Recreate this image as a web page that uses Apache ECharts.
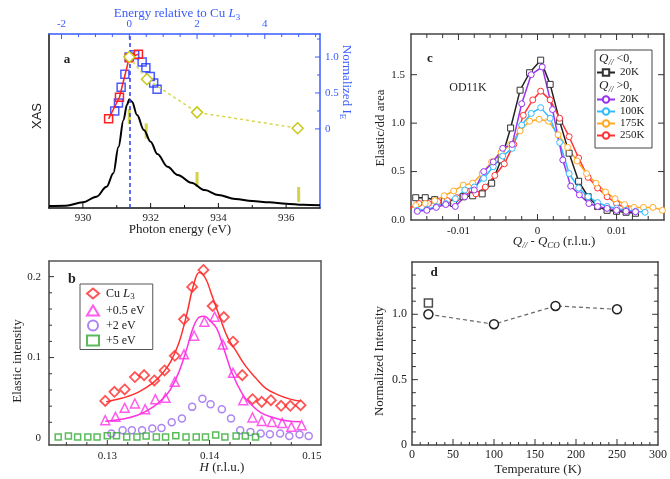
<!DOCTYPE html>
<html>
<head>
<meta charset="utf-8">
<script src="https://cdn.jsdelivr.net/npm/echarts@6/dist/echarts.min.js"></script>
<style>
html, body { margin: 0; padding: 0; background: #fff; }
#main { width: 670px; height: 479px; }
</style>
</head>
<body>
<div id="main"></div>
<script>
// ---- panel a : XAS and normalized elastic intensity ----
var xasEnergy = [929.0, 929.5, 930.0, 930.4, 930.7, 930.9, 931.05, 931.2, 931.3, 931.37, 931.45, 931.6, 931.8, 932.0, 932.2, 932.5, 932.8, 933.2, 933.6, 934.0, 934.5, 935.0, 935.5, 936.0, 936.5, 937.0];
var xasValue = [0.011, 0.013, 0.033, 0.065, 0.122, 0.2, 0.35, 0.506, 0.592, 0.625, 0.611, 0.534, 0.448, 0.381, 0.31, 0.237, 0.19, 0.145, 0.103, 0.075, 0.052, 0.04, 0.033, 0.025, 0.019, 0.016];
var markEnergy = [931.37, 931.87, 933.37, 936.37];
var markLevel = [0.526, 0.443, 0.164, 0.078];
var cuL3 = 931.37;
var redE = [-0.61, -0.29, 0, 0.27];
var redI = [0.14, 0.44, 0.99, 1.04];
var blueE = [-0.43, -0.32, -0.24, -0.13, 0.0, 0.16, 0.38, 0.49, 0.62, 0.72, 0.82];
var blueI = [0.25, 0.36, 0.58, 0.76, 1.0, 1.03, 0.93, 0.85, 0.73, 0.64, 0.55];
var yelE = [0, 0.52, 2.0, 4.97];
var yelI = [1.0, 0.69, 0.23, 0.01];

// ---- panel b : elastic intensity vs H ----
var hRed = [0.1298, 0.1307, 0.1317, 0.1327, 0.1336, 0.1346, 0.1356, 0.1366, 0.1375, 0.1383, 0.1394, 0.1403, 0.1414, 0.1423, 0.1432, 0.1442, 0.1451, 0.1460, 0.1470, 0.1479, 0.1489];
var iRed = [0.0465, 0.0577, 0.0606, 0.0759, 0.0783, 0.0718, 0.0841, 0.1022, 0.1473, 0.1873, 0.2083, 0.1637, 0.150, 0.1196, 0.0783, 0.0486, 0.0453, 0.0474, 0.0404, 0.0404, 0.0412];
var hMag = [0.1298, 0.1308, 0.1317, 0.1327, 0.1337, 0.1347, 0.1357, 0.1366, 0.1375, 0.1385, 0.1395, 0.1405, 0.1413, 0.1423, 0.1433, 0.1442, 0.1451, 0.1461, 0.1471, 0.1480, 0.1490];
var iMag = [0.0226, 0.0268, 0.0379, 0.0433, 0.0363, 0.0486, 0.0503, 0.070, 0.104, 0.127, 0.1443, 0.1505, 0.1163, 0.0812, 0.0474, 0.026, 0.0218, 0.0205, 0.0193, 0.0144, 0.0165];
var hPur = [0.1304, 0.1315, 0.1324, 0.1334, 0.1344, 0.1353, 0.1363, 0.1373, 0.1383, 0.1393, 0.1401, 0.1412, 0.1421, 0.1430, 0.1440, 0.1450, 0.1459, 0.1469, 0.1478, 0.1488, 0.1497];
var iPur = [0.0062, 0.0103, 0.0103, 0.0103, 0.0124, 0.0131, 0.0202, 0.0248, 0.0391, 0.0490, 0.0424, 0.0363, 0.0248, 0.0103, 0.0082, 0.0062, 0.0053, 0.0062, 0.0032, 0.005, 0.0032];
var hGrn = [0.1252, 0.1262, 0.1271, 0.1281, 0.1290, 0.1300, 0.1309, 0.1319, 0.1329, 0.1338, 0.1348, 0.1357, 0.1367, 0.1377, 0.1387, 0.1396, 0.1406, 0.1415, 0.1426, 0.1435, 0.1445];
var iGrn = [0.002, 0.003, 0.002, 0.002, 0.002, 0.0033, 0.0033, 0.002, 0.002, 0.003, 0.002, 0.002, 0.0033, 0.002, 0.002, 0.002, 0.0045, 0.002, 0.003, 0.003, 0.002];
var hFitRed = [0.1299, 0.1315, 0.1330, 0.1345, 0.1355, 0.1362, 0.1370, 0.1378, 0.1384, 0.1390, 0.1396, 0.1402, 0.1410, 0.1418, 0.1426, 0.1435, 0.1445, 0.1455, 0.1467, 0.1478, 0.1489];
var iFitRed = [0.0455, 0.050, 0.057, 0.069, 0.082, 0.095, 0.118, 0.155, 0.188, 0.205, 0.198, 0.178, 0.150, 0.124, 0.108, 0.090, 0.075, 0.062, 0.054, 0.049, 0.046];
var hFitMag = [0.1298, 0.1315, 0.1330, 0.1345, 0.1355, 0.1362, 0.1370, 0.1378, 0.1384, 0.1390, 0.1395, 0.1400, 0.1407, 0.1414, 0.1422, 0.1433, 0.1440, 0.1450, 0.1462, 0.1475, 0.1489];
var iFitMag = [0.0214, 0.024, 0.029, 0.039, 0.050, 0.061, 0.082, 0.112, 0.137, 0.150, 0.151, 0.146, 0.136, 0.111, 0.081, 0.053, 0.043, 0.032, 0.026, 0.022, 0.0206];

// ---- panel c : elastic/dd area vs Q ----
var qBlk = [-0.0154, -0.0142, -0.0130, -0.0118, -0.0106, -0.0094, -0.0082, -0.0070, -0.0058, -0.0046, -0.0034, -0.0022, -0.0010, 0.0004, 0.0016, 0.0028, 0.0040, 0.0052, 0.0064, 0.0076, 0.0088, 0.0100, 0.0112, 0.0124];
var vBlk = [0.23, 0.23, 0.21, 0.19, 0.17, 0.24, 0.25, 0.27, 0.38, 0.62, 0.95, 1.34, 1.52, 1.65, 1.40, 1.02, 0.69, 0.40, 0.24, 0.14, 0.10, 0.09, 0.08, 0.07];
var qPur = [-0.0152, -0.0140, -0.0128, -0.0116, -0.0104, -0.0092, -0.0080, -0.0068, -0.0056, -0.0044, -0.0032, -0.0020, -0.0008, 0.0006, 0.0019, 0.0032, 0.0042, 0.0053, 0.0065, 0.0076, 0.0088, 0.0100, 0.0112, 0.0124];
var vPur = [0.09, 0.10, 0.13, 0.16, 0.14, 0.24, 0.31, 0.50, 0.60, 0.74, 0.78, 1.20, 1.50, 1.58, 1.14, 0.62, 0.35, 0.26, 0.17, 0.14, 0.12, 0.10, 0.09, 0.085];
var qCya = [-0.0152, -0.0140, -0.0128, -0.0116, -0.0104, -0.0092, -0.0080, -0.0068, -0.0056, -0.0044, -0.0032, -0.0020, -0.0008, 0.0004, 0.0016, 0.0028, 0.0040, 0.0052, 0.0064, 0.0076, 0.0088, 0.0100, 0.0112, 0.0124, 0.0136];
var vCya = [0.10, 0.11, 0.14, 0.17, 0.22, 0.31, 0.34, 0.43, 0.55, 0.66, 0.74, 0.98, 1.10, 1.16, 1.05, 0.80, 0.48, 0.33, 0.24, 0.18, 0.14, 0.12, 0.10, 0.09, 0.08];
var qOra = [-0.0154, -0.0142, -0.0130, -0.0118, -0.0106, -0.0094, -0.0082, -0.0070, -0.0058, -0.0046, -0.0034, -0.0022, -0.0010, 0.0002, 0.0014, 0.0026, 0.0038, 0.0050, 0.0062, 0.0074, 0.0086, 0.0098, 0.0110, 0.0122, 0.0134, 0.0146, 0.0158];
var vOra = [0.15, 0.17, 0.20, 0.25, 0.30, 0.36, 0.38, 0.48, 0.60, 0.70, 0.78, 0.92, 1.02, 1.04, 1.02, 0.88, 0.75, 0.61, 0.48, 0.38, 0.29, 0.22, 0.16, 0.13, 0.13, 0.13, 0.10];
var qRed = [-0.0162, -0.0150, -0.0138, -0.0126, -0.0114, -0.0102, -0.0090, -0.0078, -0.0066, -0.0054, -0.0042, -0.0030, -0.0018, -0.0006, 0.0004, 0.0016, 0.0028, 0.0040, 0.0052, 0.0064, 0.0076, 0.0088, 0.0100, 0.0112];
var vRed = [0.12, 0.17, 0.17, 0.19, 0.20, 0.23, 0.30, 0.27, 0.34, 0.46, 0.58, 0.78, 1.08, 1.24, 1.33, 1.24, 1.05, 0.86, 0.64, 0.44, 0.33, 0.24, 0.17, 0.12];

// ---- panel d : normalized intensity vs temperature ----
var tempK = [20, 100, 175, 250];
var normI = [1.0, 0.924, 1.064, 1.038];
var tempNeg = [20];
var normNeg = [1.087];

// tick labels
var aBottomLabels = [930, 932, 934, 936];
var aTopLabels = [-2, 0, 2, 4];
var aRightLabels = [0, 0.5, 1.0];
var bXLabels = [0.13, 0.14, 0.15];
var bYLabels = [0, 0.1, 0.2];
var cXLabels = [-0.01, 0, 0.01];
var cYLabels = [0, 0.5, 1.0, 1.5];
var dXLabels = [0, 50, 100, 150, 200, 250, 300];
var dYLabels = [0, 0.5, 1.0];

// tick marks (major / minor)
var aBottomMajor = [930, 932, 934, 936];
var aBottomMinor = [931, 933, 935];
var aTopMajor = [-2, 0, 2, 4];
var aTopMinor = [-1.5, -1, -0.5, 0.5, 1, 1.5, 2.5, 3, 3.5, 4.5, 5, 5.5];
var aRightMajor = [0, 0.5, 1.0];
var aRightMinor = [0.25, 0.75, 1.25];
var bXMajor = [0.13, 0.14];
var bXMinor = [0.126, 0.128, 0.132, 0.134, 0.136, 0.138, 0.142, 0.144, 0.146, 0.148];
var bYMajor = [0.1, 0.2];
var bYMinor = [0.02, 0.04, 0.06, 0.08, 0.12, 0.14, 0.16, 0.18];
var cXMajor = [-0.01, 0, 0.01];
var cXMinor = [-0.014, -0.012, -0.008, -0.006, -0.004, -0.002, 0.002, 0.004, 0.006, 0.008, 0.012, 0.014];
var cYMajor = [0.5, 1.0, 1.5];
var dXMajor = [50, 100, 150, 200, 250];
var dXMinor = [10, 20, 30, 40, 60, 70, 80, 90, 110, 120, 130, 140, 160, 170, 180, 190, 210, 220, 230, 240, 260, 270, 280, 290];
var dYMajor = [0.5, 1.0];
var dYMinor = [0.1, 0.2, 0.3, 0.4, 0.6, 0.7, 0.8, 0.9, 1.1, 1.2, 1.3];

var FONT = 'Liberation Serif';
var BLUE = '#3a5cff';
var INK = '#222';

// plot boxes
var GA = { left: 49, top: 34, width: 271, height: 174 };
var GB = { left: 49, top: 261, width: 272, height: 184 };
var GC = { left: 411, top: 34, width: 253, height: 186 };
var GD = { left: 412, top: 262, width: 252, height: 183 };

function pairs(xs, ys) {
    return xs.map(function (x, i) { return [x, ys[i]]; });
}

var RICH = {
    it: { fontStyle: 'italic', fontFamily: FONT, fontSize: 13 },
    sub: { fontFamily: FONT, fontSize: 9, padding: [7, 0, 0, 0] },
    subit: { fontStyle: 'italic', fontFamily: FONT, fontSize: 9, padding: [7, 0, 0, 0] }
};

function label(x, y, text, opt) {
    opt = opt || {};
    return {
        type: 'text', x: x, y: y, rotation: opt.rotation || 0, z: 100,
        style: {
            text: text, fill: opt.color || INK, align: 'center', verticalAlign: 'middle',
            font: (opt.weight || 'normal') + ' ' + (opt.size || 13) + 'px "' + (opt.family || FONT) + '"',
            rich: RICH
        }
    };
}

function axisLine(color) {
    return { show: true, onZero: false, lineStyle: { color: color || '#333', width: 1.5 } };
}

function vAxis(grid, pos, min, max, color, labelOpt) {
    return {
        gridIndex: grid, type: 'value', position: pos, min: min, max: max,
        axisLine: axisLine(color), splitLine: { show: false },
        axisTick: { show: false },
        axisLabel: labelOpt || { show: false }
    };
}

function lab(values, size, color, margin, fmt) {
    var o = { show: true, customValues: values, fontFamily: FONT, fontSize: size, color: color || INK, margin: margin };
    if (fmt) o.formatter = fmt;
    return o;
}

function fmt1(v) { return v === 0 ? '0' : v.toFixed(1); }

// inward tick marks as short broken line segments on the axis scales.
// side: frame edge; edge: value of the other axis there; perPx: other-axis units per pixel
function tickLine(xi, yi, side, edge, values, lenPx, perPx, color) {
    var vertical = side === 'bottom' || side === 'top';
    var d = ((side === 'bottom' || side === 'left') ? 1 : -1) * lenPx * perPx;
    var data = [];
    values.forEach(function (v) {
        if (vertical) data.push([v, edge], [v, edge + d]);
        else data.push([edge, v], [edge + d, v]);
        data.push(['-', '-']);
    });
    return {
        type: 'line', xAxisIndex: xi, yAxisIndex: yi, data: data, silent: true, z: 6,
        showSymbol: false, symbol: 'none', connectNulls: false, clip: false,
        lineStyle: { color: color || '#333', width: 1 }
    };
}

var aTopMax = 937 - cuL3;
var aYPx = 1 / GA.height, aRPx = 2.42 / GA.height, aTPx = 8 / GA.width;
var bYPx = 0.2273 / GB.height, bXPx = 0.0266 / GB.width;
var cYPx = 1.92 / GC.height, cXPx = 0.032 / GC.width;
var dYPx = 1.4 / GD.height, dXPx = 300 / GD.width;

var myChart = echarts.init(document.getElementById('main'));
var option = {
    animation: false,
    grid: [GA, GB, GC, GD],
    xAxis: [
        vAxis(0, 'bottom', 929, 937, '#111', lab(aBottomLabels, 11, INK, 5)),
        vAxis(0, 'top', 929 - cuL3, aTopMax, BLUE, lab(aTopLabels, 11, BLUE, 4)),
        vAxis(1, 'bottom', 0.1243, 0.1509, '#444', lab(bXLabels, 11, INK, 6, function (v) { return v.toFixed(2); })),
        vAxis(1, 'top', 0.1243, 0.1509, '#555'),
        vAxis(2, 'bottom', -0.016, 0.016, '#444', lab(cXLabels, 11, INK, 6, function (v) { return v === 0 ? '0' : v.toFixed(2); })),
        vAxis(2, 'top', -0.016, 0.016, '#444'),
        vAxis(3, 'bottom', 0, 300, '#444', lab(dXLabels, 12, INK, 4)),
        vAxis(3, 'top', 0, 300, '#444')
    ],
    yAxis: [
        vAxis(0, 'left', 0, 1, '#111'),
        vAxis(0, 'right', -1.1, 1.32, BLUE, lab(aRightLabels, 11, BLUE, 5, fmt1)),
        vAxis(1, 'left', -0.008, 0.2193, '#444', lab(bYLabels, 11, INK, 8, fmt1)),
        vAxis(1, 'right', -0.008, 0.2193, '#555'),
        vAxis(2, 'left', 0, 1.92, '#444', lab(cYLabels, 11, INK, 6, function (v) { return v.toFixed(1); })),
        vAxis(2, 'right', 0, 1.92, '#444'),
        vAxis(3, 'left', 0, 1.4, '#444', lab(dYLabels, 12, INK, 5, fmt1)),
        vAxis(3, 'right', 0, 1.4, '#444')
    ],
    legend: [
        {   // b
            left: 80, top: 284, orient: 'vertical', itemGap: 3, itemWidth: 12, itemHeight: 10,
            borderColor: '#555', borderWidth: 1, padding: [3, 8, 3, 6],
            data: ['Cu L3', '+0.5 eV', '+2 eV', '+5 eV'],
            formatter: function (name) { return name === 'Cu L3' ? 'Cu {it|L}{sub|3}' : name; },
            textStyle: { fontFamily: FONT, fontSize: 12, color: INK, padding: [0, 0, 0, 2], rich: RICH }
        },
        {   // c, Q<0
            left: 596, top: 67, orient: 'vertical', itemWidth: 18, itemHeight: 8, padding: 0, z: 120,
            data: ['neg 20K'],
            formatter: function (name) { return name.split(' ')[1]; },
            textStyle: { fontFamily: FONT, fontSize: 11, color: INK }
        },
        {   // c, Q>0
            left: 596, top: 94, orient: 'vertical', itemGap: 1, itemWidth: 18, itemHeight: 8, padding: 0, z: 120,
            data: ['pos 20K', 'pos 100K', 'pos 175K', 'pos 250K'],
            formatter: function (name) { return name.split(' ')[1]; },
            textStyle: { fontFamily: FONT, fontSize: 11, color: INK }
        }
    ],
    graphic: [
        label(177, 14, 'Energy relative to Cu {it|L}{sub|3}', { color: BLUE }),
        label(37, 116, 'XAS', { rotation: Math.PI / 2, family: 'Liberation Sans', size: 13 }),
        label(180, 230, 'Photon energy (eV)'),
        label(346, 82, 'Normalized I{sub|E}', { rotation: -Math.PI / 2, color: BLUE }),
        label(67, 60, 'a', { weight: 'bold' }),
        label(18, 361, 'Elastic intensity', { rotation: Math.PI / 2 }),
        label(222, 468, '{it|H} (r.l.u.)'),
        label(72, 279, 'b', { weight: 'bold', size: 14 }),
        label(381, 128, 'Elastic/dd area', { rotation: Math.PI / 2 }),
        label(554, 242, '{it|Q}{subit|//} - {it|Q}{subit|CO} (r.l.u.)'),
        label(430, 59, 'c', { weight: 'bold' }),
        label(468, 88, 'OD11K', { size: 12 }),
        label(380, 361, 'Normalized Intensity', { rotation: Math.PI / 2 }),
        label(538, 470, 'Temperature (K)'),
        label(434, 273, 'd', { weight: 'bold' }),
        {
            type: 'rect', shape: { x: 595, y: 50, width: 57, height: 98 }, z: 1,
            style: { fill: 'none', stroke: '#444', lineWidth: 1 }
        },
        {
            type: 'text', x: 599, y: 59, z: 100,
            style: { text: '{it|Q}{subit|//} <0,', fill: INK, verticalAlign: 'middle', font: '12px "' + FONT + '"', rich: RICH }
        },
        {
            type: 'text', x: 599, y: 86, z: 100,
            style: { text: '{it|Q}{subit|//} >0,', fill: INK, verticalAlign: 'middle', font: '12px "' + FONT + '"', rich: RICH }
        }
    ],
    series: [
        // panel a
        {
            name: 'XAS', type: 'line', xAxisIndex: 0, yAxisIndex: 0, data: pairs(xasEnergy, xasValue),
            showSymbol: false, smooth: 0.35, smoothMonotone: 'x', lineStyle: { color: '#000', width: 2 },
            markLine: {
                silent: true, symbol: 'none', label: { show: false },
                lineStyle: { color: '#2a3cf0', type: [4, 3], width: 1.5 },
                data: [{ xAxis: cuL3 }]
            }
        },
        {
            name: 'marks', type: 'scatter', xAxisIndex: 0, yAxisIndex: 0, data: pairs(markEnergy, markLevel),
            symbol: 'rect', symbolSize: [3, 15], itemStyle: { color: '#c8c81a' }
        },
        {
            name: 'red', type: 'line', xAxisIndex: 1, yAxisIndex: 1, data: pairs(redE, redI),
            symbol: 'rect', symbolSize: 8, lineStyle: { color: '#ff2020', width: 1.5 },
            itemStyle: { color: 'rgba(0,0,0,0)', borderColor: '#ff2020', borderWidth: 1.5 }
        },
        {
            name: 'blue', type: 'scatter', xAxisIndex: 1, yAxisIndex: 1, data: pairs(blueE, blueI),
            symbol: 'rect', symbolSize: 8,
            itemStyle: { color: 'rgba(0,0,0,0)', borderColor: '#1f2fff', borderWidth: 1.5 }
        },
        {
            name: 'yellow', type: 'line', xAxisIndex: 1, yAxisIndex: 1, data: pairs(yelE, yelI),
            symbol: 'diamond', symbolSize: 11, lineStyle: { color: '#d6d650', type: [3, 3], width: 1.5 },
            itemStyle: { color: '#fff', borderColor: '#c8c81a', borderWidth: 1.5 }, z: 5
        },
        // panel b
        {
            name: 'fit red', type: 'line', xAxisIndex: 2, yAxisIndex: 2, data: pairs(hFitRed, iFitRed),
            showSymbol: false, smooth: 0.4, lineStyle: { color: '#ff3030', width: 1.5 }
        },
        {
            name: 'fit mag', type: 'line', xAxisIndex: 2, yAxisIndex: 2, data: pairs(hFitMag, iFitMag),
            showSymbol: false, smooth: 0.4, lineStyle: { color: '#ff33e0', width: 1.5 }
        },
        {
            name: 'Cu L3', type: 'scatter', xAxisIndex: 2, yAxisIndex: 2, data: pairs(hRed, iRed),
            symbol: 'diamond', symbolSize: 10,
            itemStyle: { color: 'rgba(0,0,0,0)', borderColor: '#ff2a2a', borderWidth: 1.8 }
        },
        {
            name: '+0.5 eV', type: 'scatter', xAxisIndex: 2, yAxisIndex: 2, data: pairs(hMag, iMag),
            symbol: 'triangle', symbolSize: 9,
            itemStyle: { color: 'rgba(0,0,0,0)', borderColor: '#ff33e8', borderWidth: 1.5 }
        },
        {
            name: '+2 eV', type: 'scatter', xAxisIndex: 2, yAxisIndex: 2, data: pairs(hPur, iPur),
            symbol: 'circle', symbolSize: 7,
            itemStyle: { color: 'rgba(0,0,0,0)', borderColor: '#9966ee', borderWidth: 1.5 }
        },
        {
            name: '+5 eV', type: 'scatter', xAxisIndex: 2, yAxisIndex: 2, data: pairs(hGrn, iGrn),
            symbol: 'rect', symbolSize: 6,
            itemStyle: { color: 'rgba(0,0,0,0)', borderColor: '#2faa2f', borderWidth: 1.5 }
        },
        // panel c
        {
            name: 'neg 20K', type: 'line', xAxisIndex: 4, yAxisIndex: 4, data: pairs(qBlk, vBlk),
            symbol: 'rect', symbolSize: 6, lineStyle: { color: '#222', width: 1.5 },
            itemStyle: { color: '#fff', borderColor: '#333', borderWidth: 1 }
        },
        {
            name: 'pos 250K', type: 'line', xAxisIndex: 4, yAxisIndex: 4, data: pairs(qRed, vRed),
            symbol: 'circle', symbolSize: 6, lineStyle: { color: '#ff3333', width: 1.5 },
            itemStyle: { color: '#fff', borderColor: '#ff3333', borderWidth: 1 }
        },
        {
            name: 'pos 175K', type: 'line', xAxisIndex: 4, yAxisIndex: 4, data: pairs(qOra, vOra),
            symbol: 'circle', symbolSize: 6, lineStyle: { color: '#ffaa22', width: 1.5 },
            itemStyle: { color: '#fff', borderColor: '#ffaa22', borderWidth: 1 }
        },
        {
            name: 'pos 100K', type: 'line', xAxisIndex: 4, yAxisIndex: 4, data: pairs(qCya, vCya),
            symbol: 'circle', symbolSize: 6, lineStyle: { color: '#33bbff', width: 1.5 },
            itemStyle: { color: '#fff', borderColor: '#33bbff', borderWidth: 1 }
        },
        {
            name: 'pos 20K', type: 'line', xAxisIndex: 4, yAxisIndex: 4, data: pairs(qPur, vPur),
            symbol: 'circle', symbolSize: 6, lineStyle: { color: '#9933ee', width: 1.5 },
            itemStyle: { color: '#fff', borderColor: '#9933ee', borderWidth: 1 }
        },
        // panel d
        {
            name: 'Q>0', type: 'line', xAxisIndex: 6, yAxisIndex: 6, data: pairs(tempK, normI),
            symbol: 'circle', symbolSize: 9, lineStyle: { color: '#666', type: [4, 3], width: 1.2 },
            itemStyle: { color: '#fff', borderColor: '#222', borderWidth: 1.5 }
        },
        {
            name: 'Q<0', type: 'scatter', xAxisIndex: 6, yAxisIndex: 6, data: pairs(tempNeg, normNeg),
            symbol: 'rect', symbolSize: 8,
            itemStyle: { color: '#fff', borderColor: '#222', borderWidth: 1.5 }
        },
        // tick marks, panel a
        tickLine(0, 0, 'bottom', 0, aBottomMajor, 5, aYPx, '#111'),
        tickLine(0, 0, 'bottom', 0, aBottomMinor, 3, aYPx, '#111'),
        tickLine(1, 1, 'top', 1.32, aTopMajor, 5, aRPx, BLUE),
        tickLine(1, 1, 'top', 1.32, aTopMinor, 3, aRPx, BLUE),
        tickLine(1, 1, 'right', aTopMax, aRightMajor, 5, aTPx, BLUE),
        tickLine(1, 1, 'right', aTopMax, aRightMinor, 3, aTPx, BLUE),
        // panel b
        tickLine(2, 2, 'bottom', -0.008, bXMajor, 5, bYPx),
        tickLine(2, 2, 'bottom', -0.008, bXMinor, 3, bYPx),
        tickLine(2, 2, 'left', 0.1243, bYMajor, 5, bXPx),
        tickLine(2, 2, 'left', 0.1243, bYMinor, 3, bXPx),
        // panel c
        tickLine(4, 4, 'bottom', 0, cXMajor, 6, cYPx),
        tickLine(4, 4, 'bottom', 0, cXMinor, 4, cYPx),
        tickLine(4, 4, 'top', 1.92, cXMajor, 6, cYPx),
        tickLine(4, 4, 'top', 1.92, cXMinor, 4, cYPx),
        tickLine(4, 4, 'left', -0.016, cYMajor, 6, cXPx),
        tickLine(4, 4, 'right', 0.016, cYMajor, 6, cXPx),
        // panel d
        tickLine(6, 6, 'bottom', 0, dXMajor, 6, dYPx),
        tickLine(6, 6, 'bottom', 0, dXMinor, 3, dYPx),
        tickLine(6, 6, 'left', 0, dYMajor, 6, dXPx),
        tickLine(6, 6, 'left', 0, dYMinor, 4, dXPx),
        tickLine(6, 6, 'right', 300, dYMajor, 6, dXPx),
        tickLine(6, 6, 'right', 300, dYMinor, 4, dXPx)
    ]
};
myChart.setOption(option);
</script>
</body>
</html>
